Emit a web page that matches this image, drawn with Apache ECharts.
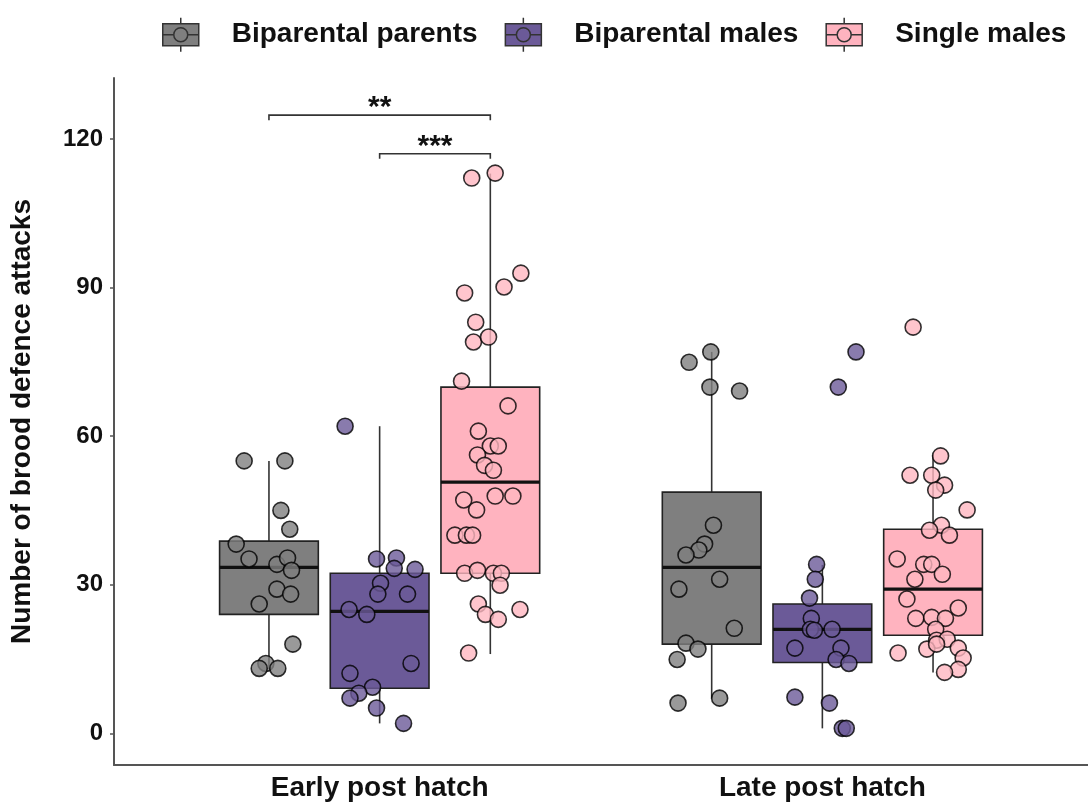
<!DOCTYPE html>
<html>
<head>
<meta charset="utf-8">
<script src="https://cdn.jsdelivr.net/npm/echarts@6/dist/echarts.min.js"></script>
<style>
html,body{margin:0;padding:0;background:#fff;}
#chart{width:1088px;height:805px;}
</style>
</head>
<body>
<div id="chart"></div>
<script>
// ---------- DATA ----------
const categories = ['Early post hatch', 'Late post hatch'];
const groups = ['Biparental parents', 'Biparental males', 'Single males'];
const yTicks = [0, 30, 60, 90, 120];

// box stats per category: [lower whisker, Q1, median, Q3, upper whisker]
const bpParentsBox = [[13, 24.0, 33.5, 38.8, 55], [7, 18.0, 33.5, 48.7, 77]];
const bpMalesBox   = [[2, 9.1, 24.6, 32.3, 62], [1, 14.3, 21.0, 26.1, 34]];
const singleBox    = [[16, 32.3, 50.7, 69.9, 113], [12.3, 19.8, 29.1, 41.2, 56.2]];

// individual observations: [jitter, value]
const bpParentsEarly = [[-0.056,55.0],[0.036,55.0],[0.027,45.0],[0.047,41.2],[-0.074,38.2],[-0.045,35.2],[0.018,34.1],[0.042,35.4],[0.051,32.9],[0.018,29.1],[0.049,28.1],[-0.022,26.1],[0.054,18.0],[-0.007,14.1],[-0.022,13.1],[0.020,13.1]];
const bpMalesEarly = [[-0.078,62.0],[-0.007,35.2],[0.038,35.4],[0.033,33.3],[0.080,33.1],[0.002,30.3],[-0.004,28.1],[0.063,28.1],[-0.069,25.0],[-0.029,24.0],[0.071,14.1],[-0.067,12.1],[-0.016,9.3],[-0.047,8.1],[-0.067,7.1],[-0.007,5.1],[0.054,2.0]];
const singleEarly = [[-0.042,112.1],[0.011,113.1],[0.069,92.9],[0.031,90.1],[-0.058,88.9],[-0.033,83.0],[-0.038,79.0],[-0.004,80.0],[-0.065,71.1],[0.040,66.1],[-0.027,61.0],[0,58.0],[0.018,58.0],[-0.029,56.2],[-0.013,54.1],[0.007,53.1],[-0.060,47.1],[-0.031,45.1],[0.011,47.9],[0.051,47.9],[-0.080,40.0],[-0.054,40.0],[-0.040,40.0],[-0.058,32.3],[-0.029,32.9],[0.007,32.3],[0.025,32.3],[0.022,29.9],[-0.027,26.1],[-0.011,24.0],[0.018,23.0],[0.067,25.0],[-0.049,16.2]];
const bpParentsLate = [[-0.051,74.9],[-0.002,77.0],[-0.004,69.9],[0.063,69.1],[0.004,42.0],[-0.016,38.2],[-0.029,37.0],[-0.058,36.0],[0.018,31.1],[-0.074,29.1],[0.051,21.2],[-0.058,18.2],[-0.031,17.0],[-0.078,14.9],[0.018,7.1],[-0.076,6.1]];
const bpMalesLate = [[0.076,77.0],[0.036,69.9],[-0.013,34.1],[-0.016,31.1],[-0.029,27.3],[-0.025,23.2],[-0.027,21.0],[-0.018,20.8],[0.022,21.0],[-0.062,17.2],[0.042,17.2],[0.031,14.9],[0.060,14.1],[-0.062,7.3],[0.016,6.1],[0.045,1.0],[0.054,1.0]];
const singleLate = [[-0.045,82.0],[0.017,56.0],[-0.052,52.1],[-0.003,52.1],[0.026,50.1],[0.006,49.1],[0.077,45.1],[0.019,42.0],[-0.008,41.0],[0.037,40.0],[-0.081,35.2],[-0.021,34.1],[-0.003,34.1],[0.021,32.1],[-0.041,31.1],[-0.059,27.1],[0.057,25.3],[-0.039,23.2],[-0.003,23.4],[0.028,23.2],[0.006,21.0],[0.008,18.8],[0.032,19.0],[-0.014,17.0],[0.008,18.0],[-0.079,16.2],[0.057,17.2],[0.068,15.2],[0.057,12.9],[0.026,12.3]];

// significance brackets: [category index, group A, group B, bracket value, label]
const signif = [[0, 0, 2, 124.8, '**'], [0, 1, 2, 117.0, '***']];

// ---------- LAYOUT / STYLE ----------
const boxes = [bpParentsBox, bpMalesBox, singleBox];
const points = [[bpParentsEarly, bpParentsLate], [bpMalesEarly, bpMalesLate], [singleEarly, singleLate]];
const fills = ['#7f7f7f', '#6b5a98', '#ffb3bf'];
const ptFills = ['#7f7f7f', '#6b5a98', '#ffb6c1'];
const dodge = [-0.25, 0, 0.25];
const boxW = 0.223;
const FONT = 'Liberation Sans, Arial, sans-serif';

function xPos(cat, g) { return cat + 1 + dodge[g]; }

const series = [];
groups.forEach((name, g) => {
  series.push({
    name: name,
    type: 'custom',
    itemStyle: { color: fills[g] },
    data: boxes[g].map((b, c) => [xPos(c, g)].concat(b)),
    encode: { x: 0, y: [1, 2, 3, 4, 5] },
    z: 2,
    renderItem: function (params, api) {
      const x = api.value(0);
      const lo = api.coord([x, api.value(1)]);
      const q1 = api.coord([x, api.value(2)]);
      const md = api.coord([x, api.value(3)]);
      const q3 = api.coord([x, api.value(4)]);
      const hi = api.coord([x, api.value(5)]);
      const hw = api.size([boxW, 0])[0] / 2;
      const lineStyle = { stroke: '#333', lineWidth: 1.6 };
      return {
        type: 'group',
        children: [
          { type: 'line', shape: { x1: lo[0], y1: lo[1], x2: q1[0], y2: q1[1] }, style: lineStyle },
          { type: 'line', shape: { x1: q3[0], y1: q3[1], x2: hi[0], y2: hi[1] }, style: lineStyle },
          { type: 'rect', shape: { x: q3[0] - hw, y: q3[1], width: hw * 2, height: q1[1] - q3[1] },
            style: { fill: fills[g], stroke: '#222', lineWidth: 1.6 } },
          { type: 'line', shape: { x1: md[0] - hw, y1: md[1], x2: md[0] + hw, y2: md[1] },
            style: { stroke: '#111', lineWidth: 3.2 } }
        ]
      };
    }
  });
});
groups.forEach((name, g) => {
  const d = [];
  points[g].forEach((arr, c) => arr.forEach(p => d.push([xPos(c, g) + p[0], p[1]])));
  series.push({
    name: name,
    type: 'scatter',
    data: d,
    symbol: 'circle',
    symbolSize: 16,
    z: 3,
    itemStyle: { color: ptFills[g], opacity: 0.8, borderColor: '#000', borderWidth: 1.6 },
    emphasis: { disabled: true }
  });
});
series.push({
  type: 'custom',
  name: 'signif',
  data: signif.map(s => [xPos(s[0], s[1]), xPos(s[0], s[2]), s[3], s[4]]),
  encode: { x: [0, 1], y: 2 },
  z: 4,
  silent: true,
  renderItem: function (params, api) {
    const a = api.coord([api.value(0), api.value(2)]);
    const b = api.coord([api.value(1), api.value(2)]);
    const label = signif[params.dataIndex][4];
    const st = { stroke: '#333', lineWidth: 1.6, fill: null };
    return {
      type: 'group',
      children: [
        { type: 'polyline', shape: { points: [[a[0], a[1] + 5], [a[0], a[1]], [b[0], b[1]], [b[0], b[1] + 5]] }, style: st },
        { type: 'text', x: (a[0] + b[0]) / 2, y: a[1] + 8,
          style: { text: label, fill: '#111', font: 'bold 30px ' + FONT, align: 'center', verticalAlign: 'bottom' } }
      ]
    };
  }
});

const chart = echarts.init(document.getElementById('chart'), null, { renderer: 'canvas' });
chart.setOption({
  animation: false,
  backgroundColor: '#fff',
  grid: { left: 114, top: 78, width: 985.6, height: 687 },
  legend: {
    data: groups,
    top: 12,
    left: 157,
    itemWidth: 38,
    itemHeight: 34,
    itemGap: 27,
    icon: 'path://M0,6L36,6L36,28L0,28Z M18,0L18,6 M18,28L18,34 M0,17L11,17 M25,17L36,17 M25,17A7,7,0,1,1,11,17A7,7,0,1,1,25,17Z',
    itemStyle: { borderColor: '#333', borderWidth: 1.5 },
    textStyle: { fontFamily: FONT, fontWeight: 'bold', fontSize: 28, color: '#111', padding: [0, 0, 0, 27] },
    selectedMode: false
  },
  xAxis: {
    type: 'value',
    min: 0.4,
    max: 2.6,
    splitLine: { show: false },
    axisLine: { show: true, onZero: false, lineStyle: { color: '#555', width: 2 } },
    axisTick: { show: false },
    axisLabel: {
      customValues: [1, 2],
      formatter: v => categories[Math.round(v) - 1] || '',
      fontFamily: FONT, fontWeight: 'bold', fontSize: 28, color: '#111', margin: 9
    }
  },
  yAxis: {
    type: 'value',
    min: -6.4,
    max: 132.3,
    name: 'Number of brood defence attacks',
    nameLocation: 'middle',
    nameGap: 78,
    nameTextStyle: { fontFamily: FONT, fontWeight: 'bold', fontSize: 28, color: '#111' },
    splitLine: { show: false },
    axisLine: { show: true, onZero: false, lineStyle: { color: '#555', width: 2 } },
    axisTick: { show: true, customValues: yTicks, length: 4, lineStyle: { color: '#555', width: 1.5 } },
    axisLabel: { customValues: yTicks, fontFamily: FONT, fontWeight: 'bold', fontSize: 24, color: '#111', margin: 11 }
  },
  series: series
});
</script>
</body>
</html>
